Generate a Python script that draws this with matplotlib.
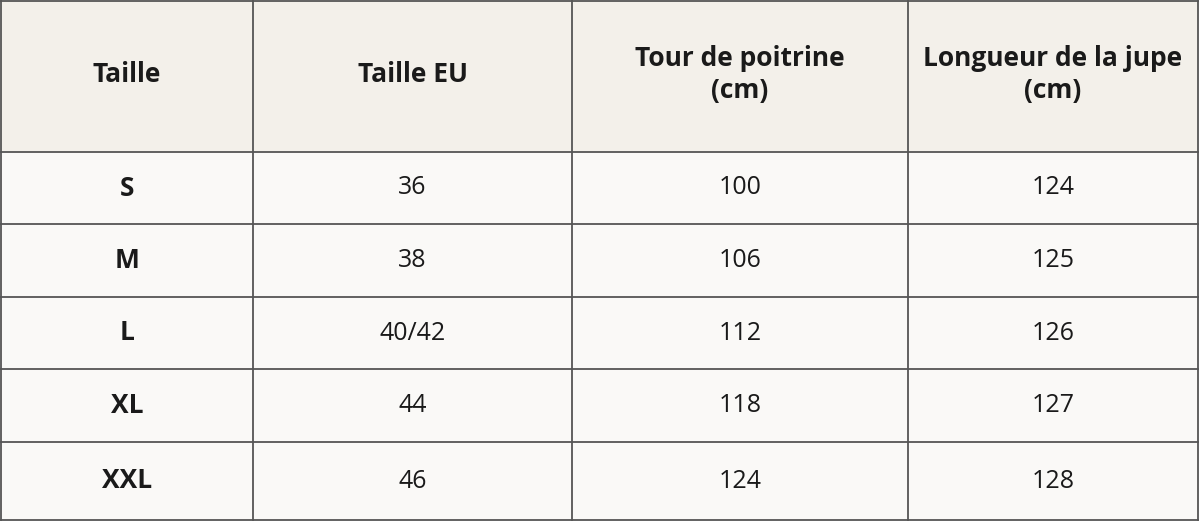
import matplotlib.pyplot as plt
from matplotlib.patches import Rectangle

headers = ["Taille", "Taille EU", "Tour de poitrine\n(cm)", "Longueur de la jupe\n(cm)"]
sizes = ["S", "M", "L", "XL", "XXL"]
eu = ["36", "38", "40/42", "44", "46"]
chest = ["100", "106", "112", "118", "124"]
skirt = ["124", "125", "126", "127", "128"]

col_x = [1, 253, 572, 908, 1198]
row_y = [1, 152, 224, 297, 369, 442, 520]

fig = plt.figure(figsize=(12, 5.23), dpi=100)
ax = fig.add_axes([0, 0, 1, 1])
ax.set_xlim(0, 1200)
ax.set_ylim(523, 0)
ax.axis("off")
fig.patch.set_facecolor("white")

ax.add_patch(Rectangle((col_x[0], row_y[0]), col_x[-1] - col_x[0], row_y[1] - row_y[0],
                       facecolor="#f3f0ea", edgecolor="none"))
ax.add_patch(Rectangle((col_x[0], row_y[1]), col_x[-1] - col_x[0], row_y[-1] - row_y[1],
                       facecolor="#faf9f7", edgecolor="none"))

for x in col_x:
    ax.plot([x, x], [row_y[0], row_y[-1]], color="#555555", lw=1.3)
for y in row_y:
    ax.plot([col_x[0], col_x[-1]], [y, y], color="#555555", lw=1.3)

font = ["Open Sans", "DejaVu Sans"]
centers = [(col_x[i] + col_x[i + 1]) / 2 for i in range(4)]
for c, h in zip(centers, headers):
    ax.text(c, (row_y[0] + row_y[1]) / 2 - 2, h, ha="center", va="center", fontsize=19,
            fontweight="bold", family=font, color="#1a1a1a", linespacing=1.25)

cols = [sizes, eu, chest, skirt]
for r in range(5):
    yc = (row_y[r + 1] + row_y[r + 2]) / 2
    for i, col in enumerate(cols):
        ax.text(centers[i], yc, col[r], ha="center", va="center",
                fontsize=19 if i == 0 else 18, fontweight="bold" if i == 0 else "normal",
                family=font, color="#1a1a1a")

fig.savefig("out.png", dpi=100)
